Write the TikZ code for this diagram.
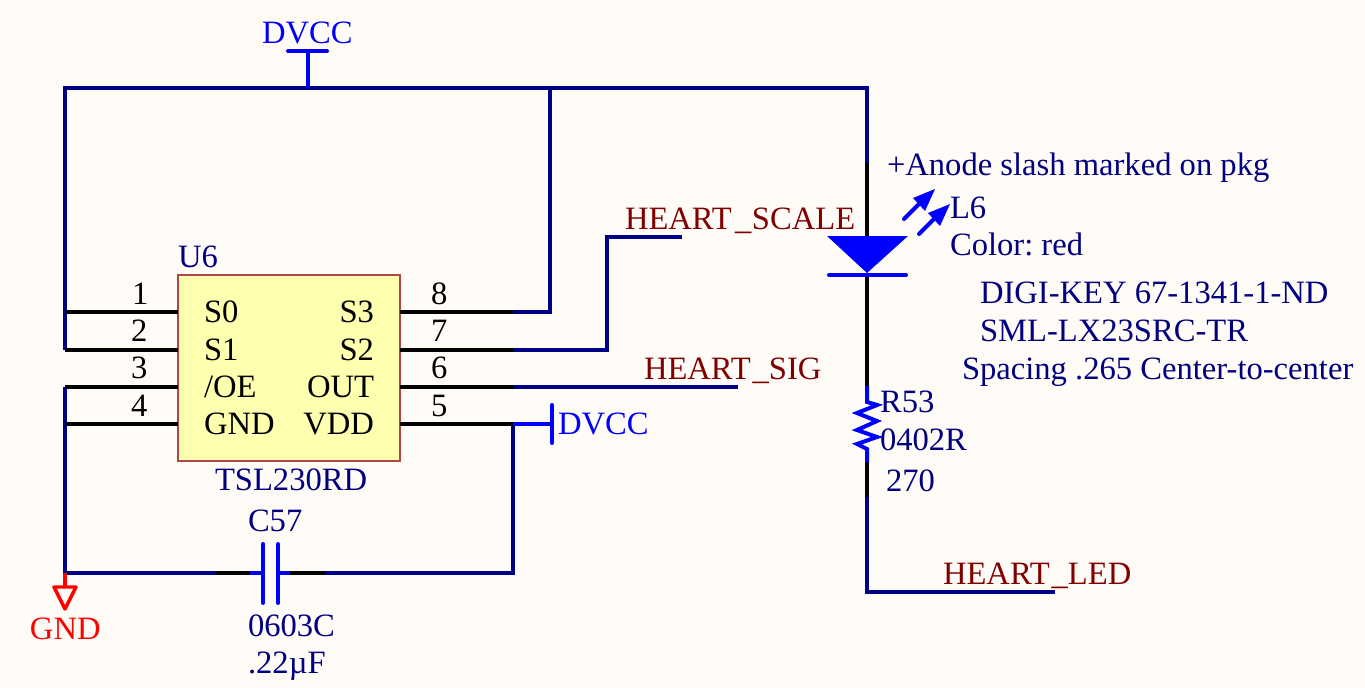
\documentclass[tikz,border=0pt]{standalone}
\usepackage{fontspec}
\setmainfont{Liberation Serif}
\frenchspacing
\definecolor{bgc}{RGB}{255,252,248}
\definecolor{wirec}{RGB}{0,0,135}
\definecolor{symc}{RGB}{0,0,255}
\definecolor{txtc}{RGB}{0,0,128}
\definecolor{netc}{RGB}{128,0,0}
\definecolor{icfill}{RGB}{255,255,176}
\definecolor{icline}{RGB}{176,70,70}
\tikzset{
  wire/.style={draw=wirec,line width=3pt,line join=miter},
  pinline/.style={draw=black,line width=3pt},
  sym/.style={draw=symc,line width=3pt},
  symround/.style={sym,line cap=round},
  lab/.style={anchor=base west,inner sep=0pt,outer sep=0pt,font=\fontsize{24.45}{24.45}\selectfont},
  des/.style={lab,text=txtc},
  net/.style={lab,text=netc},
  pow/.style={lab,text=symc},
  pintext/.style={lab,text=black},
  pinname/.style={anchor=base east,inner sep=0pt,outer sep=0pt,font=\fontsize{24.45}{24.45}\selectfont,text=black},
}
\begin{document}
\begin{tikzpicture}[x=0.75pt,y=-0.75pt]
\useasboundingbox (0,0) rectangle (1365,687);
\fill[bgc] (0,0) rectangle (1365,687);
% junctions
\coordinate (tl) at (65,88); \coordinate (tdv) at (308,88); \coordinate (ts3) at (550,88); \coordinate (tr) at (867,88);
\coordinate (ll1) at (65,312); \coordinate (ll2) at (65,350); \coordinate (ll3) at (65,387); \coordinate (ll4) at (65,424); \coordinate (lb) at (65,573);
\coordinate (p1) at (178,312); \coordinate (p2) at (178,350); \coordinate (p3) at (178,387); \coordinate (p4) at (178,424);
\coordinate (p8) at (400,312); \coordinate (p7) at (400,350); \coordinate (p6) at (400,387); \coordinate (p5) at (400,424);
\coordinate (e8) at (513,312); \coordinate (e7) at (513,350); \coordinate (e6) at (513,387); \coordinate (e5) at (513,424);
\coordinate (c8) at (550,312); \coordinate (c7) at (607,350); \coordinate (c7u) at (607,237); \coordinate (scale) at (682,237);
\coordinate (sig) at (738,387); \coordinate (dvr) at (552,424); \coordinate (br) at (513,573);
\coordinate (capa) at (216,573); \coordinate (capb) at (250,573); \coordinate (pl1) at (263,573); \coordinate (pl2) at (278,573); \coordinate (capc) at (290,573); \coordinate (capd) at (325,573);
\coordinate (ledw) at (867,163); \coordinate (leda) at (867,236); \coordinate (ledk) at (867,275);
\coordinate (ra) at (867,386); \coordinate (rb) at (867,462); \coordinate (rc) at (867,497); \coordinate (rd) at (867,592); \coordinate (led) at (1055,592);
\coordinate (dvt) at (308,51);
% IC
\node[draw=icline,fill=icfill,line width=1pt,minimum width=166.5pt,minimum height=139.5pt,inner sep=0pt,outer sep=0pt] (u6) at (289,368) {};
% wires
\draw[wire] (ll2) -- (tl) -- (tr) -- (ledw);
\draw[wire] (e8) -- (c8) -- (ts3);
\draw[wire] (e7) -- (c7) -- (c7u) -- (scale);
\draw[wire] (e6) -- (sig);
\draw[wire] (ll3) -- (lb) -- (capa);
\draw[wire] (capd) -- (br) -- (e5);
\draw[wire] (rc) -- (rd) -- (led);
% pins
\foreach \a/\b in {ll1/p1,ll2/p2,ll3/p3,ll4/p4,p8/e8,p7/e7,p6/e6,p5/e5,capa/capb,capc/capd,ledw/leda,ledk/ra,rb/rc}
  \draw[pinline] (\a) -- (\b);
% power symbols
\draw[sym] (tdv) -- (dvt);
\draw[symround] (288,51) -- (327,51);
\draw[sym] (e5) -- (dvr);
\draw[symround] (552,405) -- (552,443);
\draw[draw=red,line width=3pt] (lb) -- (65,587);
\draw[draw=red,line width=2.6pt,line join=round] (54,587) -- (76,587) -- (65,609) -- cycle;
% capacitor
\draw[sym] (capb) -- (pl1); \draw[sym] (pl2) -- (capc);
\draw[symround] (263,544) -- (263,603);
\draw[symround] (278,544) -- (278,603);
% LED
\fill[symc] (827,236) -- (908,236) -- (867,273) -- cycle;
\draw[symround] (829,275) -- (906,275);
\draw[symround] (904,219) -- (924,199);
\fill[symc] (935,189) -- (913,198) -- (925,211) -- cycle;
\draw[symround] (919,234) -- (939,214);
\fill[symc] (950,204) -- (928,213) -- (940,226) -- cycle;
% resistor
\draw[sym,line join=miter] (ra) -- (867,402) -- (877,405) -- (857,413) -- (877,421) -- (857,430) -- (877,437) -- (857,444) -- (867,449) -- (rb);
% texts
\node[pow] (tdvcc) at (262,43) {DVCC};
\node[pow] (rdvcc) at (558,434) {DVCC};
\node[lab,text=red] (tgnd) at (30,639) {GND};
\node[des] (tu6) at (178,267) {U6};
\node[des] (tsl) at (215,490) {TSL230RD};
\node[des] (tc57) at (248,531) {C57};
\node[des] (t0603) at (248,636) {0603C};
\node[des] (t22) at (248,673) {.22µF};
\node[des] (tanode) at (887,175) {+Anode slash marked on pkg};
\node[des] (tl6) at (950,218) {L6};
\node[des] (tcolor) at (950,255) {Color: red};
\node[des] (tdigi) at (980,303) {DIGI-KEY 67-1341-1-ND};
\node[des] (tsml) at (980,341) {SML-LX23SRC-TR};
\node[des] (tspace) at (962,379) {Spacing .265 Center-to-center};
\node[des] (tr53) at (880,412) {R53};
\node[des] (t0402) at (880,450) {0402R};
\node[des] (t270) at (886,491) {270};
\node[net] (tscale) at (625,229) {HEART\kern2.5pt\_\kern0.5pt SCALE};
\node[net] (tsig) at (644,379) {HEART\kern1.5pt\_SIG};
\node[net] (tled) at (943,584) {HEART\kern1.5pt\_LED};
% pin numbers
\node[pintext] (n1) at (132,304) {1};
\node[pintext] (n2) at (131,341) {2};
\node[pintext] (n3) at (131,378) {3};
\node[pintext] (n4) at (131,416) {4};
\node[pintext] (n8) at (431,304) {8};
\node[pintext] (n7) at (431,341) {7};
\node[pintext] (n6) at (431,378) {6};
\node[pintext] (n5) at (431,416) {5};
% pin names
\node[pintext] (s0) at (204,322) {S0};
\node[pintext] (s1) at (204,360) {S1};
\node[pintext] (oe) at (204,397) {/OE};
\node[pintext] (gnd) at (204,434) {GND};
\node[pinname] (s3) at (374,322) {S3};
\node[pinname] (s2) at (374,360) {S2};
\node[pinname] (out) at (374,397) {OUT};
\node[pinname] (vdd) at (374,434) {VDD};
\end{tikzpicture}
\end{document}
